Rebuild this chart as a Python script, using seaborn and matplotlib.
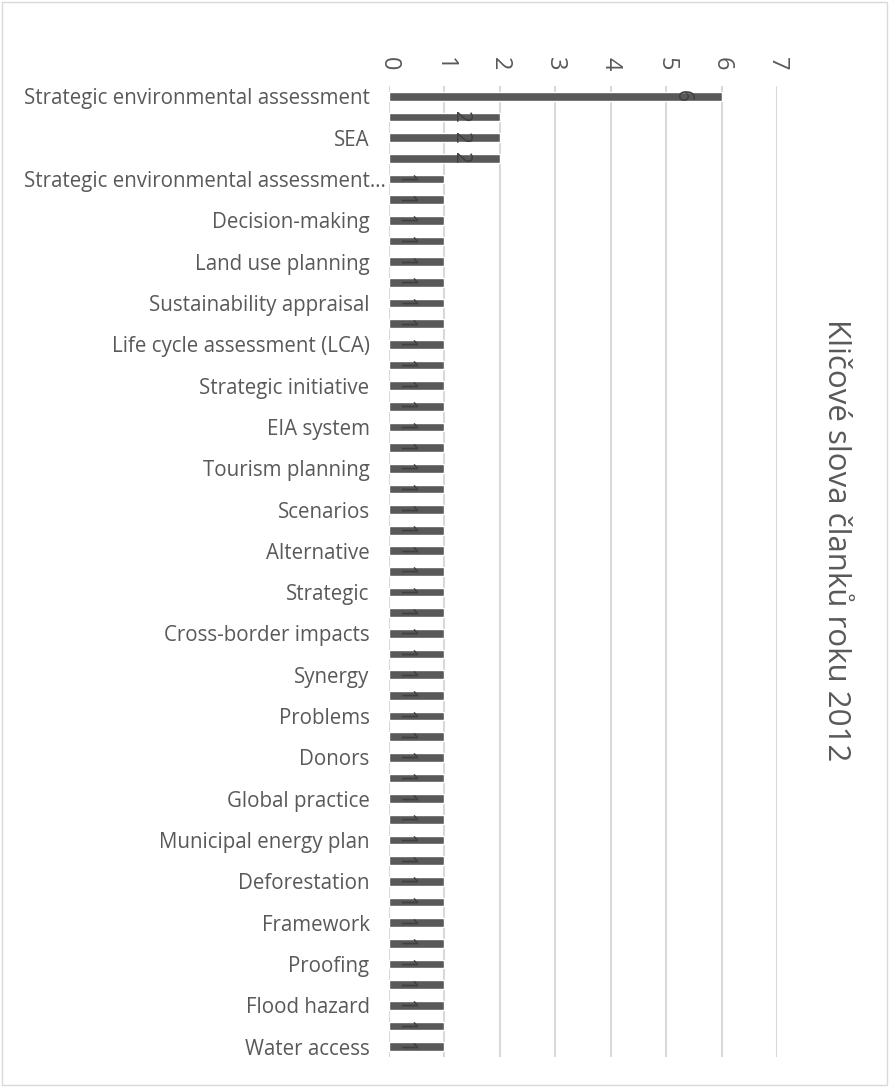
import numpy as np
import matplotlib
matplotlib.use("Agg")
import matplotlib.pyplot as plt
import matplotlib.transforms as mtransforms
import seaborn as sns

# keywords shown on the axis (every second bar carries a label)
shown_labels = [
    "Strategic environmental assessment", "SEA",
    "Strategic environmental assessment\u2026", "Decision-making",
    "Land use planning", "Sustainability appraisal",
    "Life cycle assessment (LCA)", "Strategic initiative", "EIA system",
    "Tourism planning", "Scenarios", "Alternative", "Strategic",
    "Cross-border impacts", "Synergy", "Problems", "Donors",
    "Global practice", "Municipal energy plan", "Deforestation",
    "Framework", "Proofing", "Flood hazard", "Water access",
]
# number of articles per keyword (47 bars, top to bottom)
counts = [6, 2, 2, 2, 1, 1, 1, 1, 1, 1,
          1, 1, 1, 1, 1, 1, 1, 1, 1, 1,
          1, 1, 1, 1, 1, 1, 1, 1, 1, 1,
          1, 1, 1, 1, 1, 1, 1, 1, 1, 1,
          1, 1, 1, 1, 1, 1, 1]
title = "Kličové slova članků roku 2012"

sns.set_style("white")
plt.rcParams["font.family"] = ["Open Sans", "DejaVu Sans"]

txt = "#595959"
fig = plt.figure(figsize=(8.89, 10.87), dpi=100)
ax = fig.add_axes([0.4376, 0.0276, 0.4367, 0.8933])

pos = np.arange(len(counts))
sns.barplot(x=counts, y=pos, orient="h", color="#595959", width=0.42,
            saturation=1, ax=ax)

ax.set_xlim(0, 7)
ax.set_ylim(len(counts) - 0.5, -0.5)
ax.xaxis.tick_top()
ax.set_xticks(range(8))
ax.tick_params(axis="x", labelrotation=-90, labelsize=17, colors=txt,
               length=0, pad=11)
ax.set_yticks(pos[::2])
ax.set_yticklabels(shown_labels)
ax.tick_params(axis="y", labelsize=14.8, colors=txt, length=0, pad=14)
ax.grid(axis="x", color="#d9d9d9", linewidth=1.5)
ax.set_axisbelow(True)
for s in ax.spines.values():
    s.set_visible(False)
ax.set_xlabel("")
ax.set_ylabel("")

# the truncated label sits closer to the axis
lab = ax.get_yticklabels()[2]
lab.set_transform(lab.get_transform() +
                  mtransforms.ScaledTranslation(12 / 72, 0, fig.dpi_scale_trans))

ax.bar_label(ax.containers[0], label_type="edge", padding=-36,
             rotation=-90, fontsize=15, color="#404040")

fig.text(0.94, 0.503, title, rotation=-90, fontsize=22.5, color=txt,
         ha="center", va="center")

fig.patches.append(plt.Rectangle((0.002, 0.002), 0.996, 0.996,
                                 transform=fig.transFigure, fill=False,
                                 edgecolor="#d9d9d9", linewidth=1))

fig.savefig("out.png", dpi=100)
